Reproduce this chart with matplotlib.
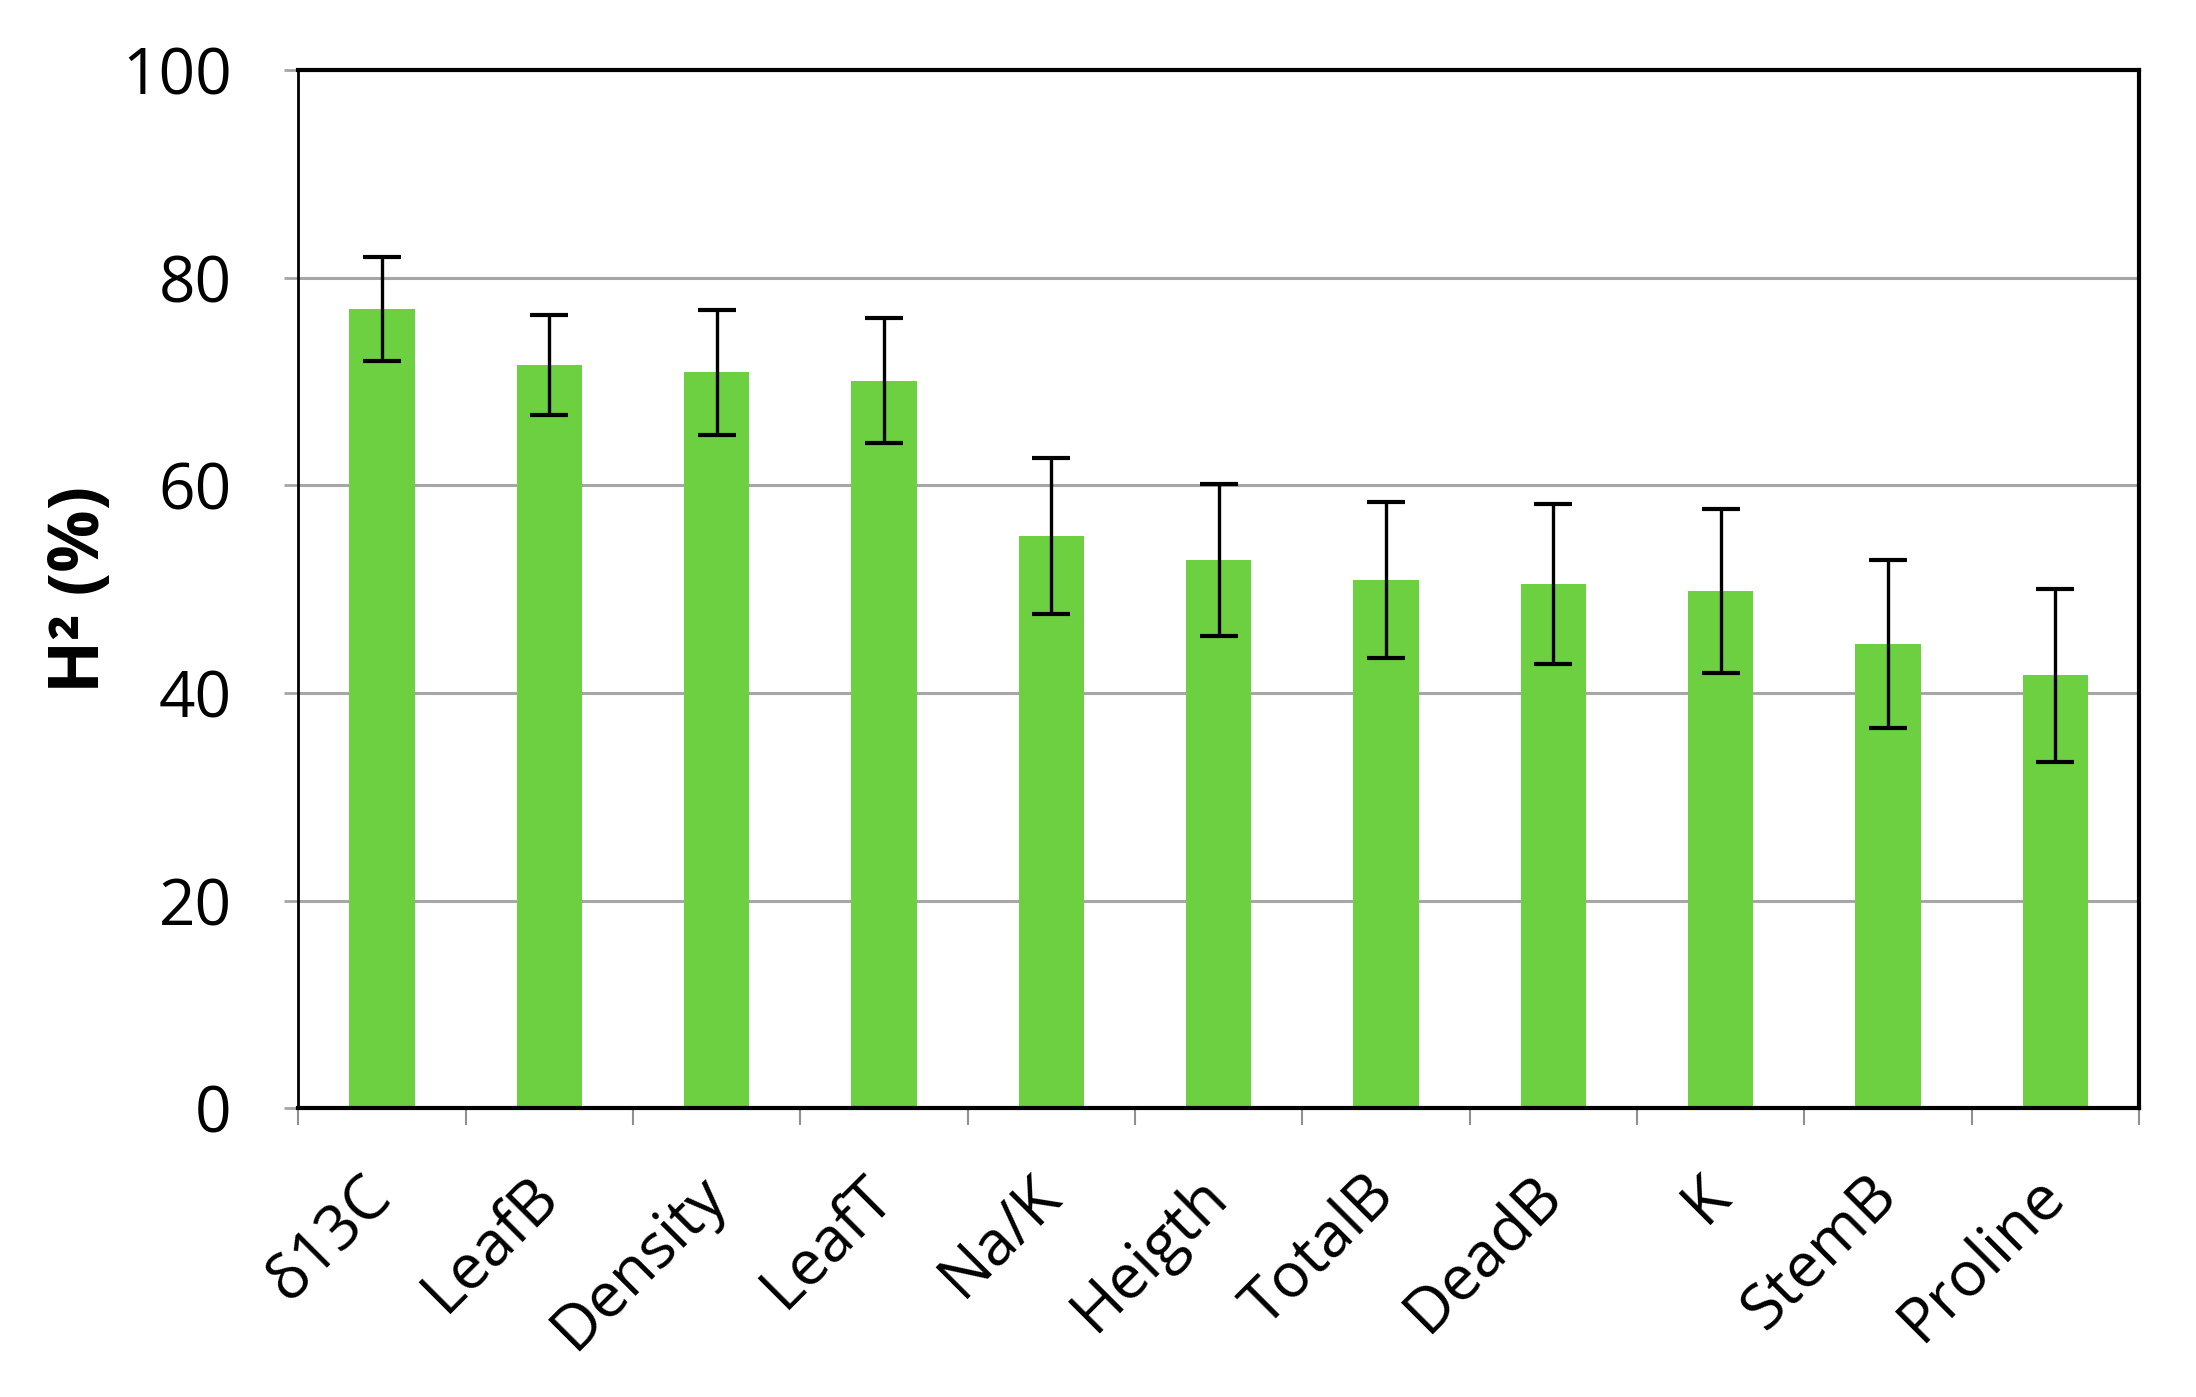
import matplotlib

matplotlib.use("Agg")
import matplotlib.pyplot as plt
import numpy as np

traits = ["δ13C", "LeafB", "Density", "LeafT", "Na/K", "Heigth",
          "TotalB", "DeadB", "K", "StemB", "Proline"]
h2 = [77.0, 71.6, 70.9, 70.1, 55.1, 52.8, 50.9, 50.5, 49.8, 44.7, 41.7]
h2_err = [5.0, 4.8, 6.0, 6.0, 7.5, 7.3, 7.5, 7.7, 7.9, 8.1, 8.3]
yticks = [0, 20, 40, 60, 80, 100]

plt.rcParams["font.family"] = ["Open Sans", "DejaVu Sans"]

fig = plt.figure(figsize=(21.96, 13.97), dpi=100)
ax = fig.add_axes([0.1358, 0.2066, 0.974 - 0.1358, 0.9498 - 0.2066])

x = np.arange(len(traits))
ax.bar(x, h2, width=0.39, color="#6cd040", zorder=2)
ax.errorbar(x, h2, yerr=h2_err, fmt="none", ecolor="black",
            elinewidth=2.4, capsize=14, capthick=3, zorder=3)

ax.set_xlim(-0.5, len(traits) - 0.5)
ax.set_ylim(0, 100)
ax.set_yticks(yticks)
ax.yaxis.grid(True, color="#a6a6a6", linewidth=2.2, zorder=0)
ax.set_axisbelow(True)

ax.set_xticks(x)
ax.set_xticklabels(traits, rotation=45, ha="right", va="center",
                   rotation_mode="anchor", fontsize=45)
ax.set_xticks(np.arange(-0.5, len(traits)), minor=True)
ax.tick_params(axis="x", which="major", length=0, pad=56)
ax.tick_params(axis="x", which="minor", length=12, width=1.5, color="#909090")
ax.tick_params(axis="y", length=10, width=2, color="#a6a6a6", labelsize=46, pad=38)

for side in ["top", "bottom", "right"]:
    ax.spines[side].set_linewidth(3)
ax.spines["left"].set_linewidth(2)

ax.set_ylabel("H² (%)", fontsize=50, fontweight="bold", labelpad=4)

fig.savefig("out.png", dpi=100)
